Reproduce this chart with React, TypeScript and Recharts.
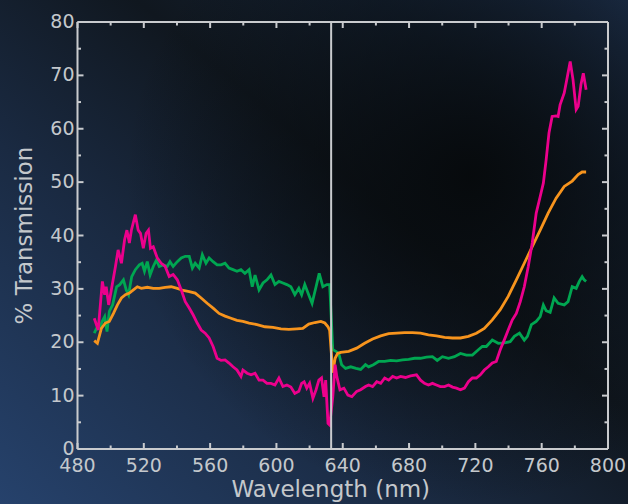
import { LineChart, Line, XAxis, YAxis, ReferenceLine, Label } from "recharts"

// wavelength (nm) and % transmission, one pair of arrays per sample
const magentaNm = [490.1, 492.5, 495, 496.4, 497.3, 498.8, 500.4, 502.9, 504.5, 506.5, 508.4, 509.8, 511.3, 512.5, 514.9, 516.6, 518, 519.7, 521.4, 522.8, 524, 525.7, 528.1, 530.5, 532.9, 535.3, 537.7, 540.2, 542.6, 545, 547.4, 549.8, 552.2, 554.6, 557, 559.4, 561.8, 564.2, 566.6, 569, 571.4, 573.8, 576.2, 578.6, 579.8, 582.3, 584.7, 587.1, 589.5, 591.9, 594.3, 596.7, 599.1, 601.5, 603.9, 606.3, 608.7, 611.1, 613.5, 615.2, 616.7, 618.3, 620, 622, 623.9, 625.6, 627.2, 628.7, 629.7, 631.1, 632.1, 634, 635.4, 636.4, 638.3, 640.7, 643.1, 645.5, 648.4, 650.8, 653.7, 655.6, 658, 660.5, 662.9, 665.3, 667.7, 670.1, 672.5, 674.9, 677.8, 680.9, 684.5, 686.9, 689.3, 691.7, 694.1, 696.5, 698.9, 701.4, 703.8, 706.2, 708.6, 711, 713.4, 715.8, 718.2, 720.6, 723, 725.4, 727.8, 730.2, 732.6, 735, 737.4, 739.8, 742.3, 744.7, 747.1, 749.5, 751.9, 754.3, 756.7, 759.1, 761, 762.7, 764.4, 766.3, 768.7, 769.9, 771.1, 773.6, 775.5, 777.2, 778.9, 780.8, 782, 783.7, 785.1, 786.8]
const magentaPct = [24.5, 22.3, 31.4, 28.9, 30.4, 27, 29.8, 34.2, 37.3, 34.8, 39.2, 41, 38.6, 41, 43.9, 41, 40.4, 37.6, 40.4, 41, 37.6, 37.9, 35.8, 34.8, 34.2, 32.3, 32.7, 31.7, 29.8, 27.6, 26.4, 25.1, 23.6, 22.3, 21.7, 20.8, 19.2, 17, 16.6, 16.7, 16.1, 15.4, 14.8, 13.6, 14.8, 14.2, 13.9, 14.2, 12.9, 12.9, 12.3, 12.3, 12, 13.3, 11.7, 12, 11.6, 10.4, 10.8, 12.3, 12.6, 11.4, 12.3, 9.5, 11.1, 12.9, 13.3, 9.8, 12.9, 4.8, 4.5, 9.8, 15.8, 13.6, 11.1, 11.4, 10.1, 9.8, 10.8, 11.1, 11.7, 12, 11.7, 12.6, 12.3, 13.3, 12.9, 13.6, 13.3, 13.6, 13.4, 13.7, 13.9, 12.9, 12.3, 12, 12.3, 12, 11.7, 11.7, 12, 11.6, 11.4, 11.1, 11.4, 12.6, 13.3, 13.3, 13.9, 14.8, 15.4, 16.1, 16.4, 18.6, 20.4, 22.3, 24.2, 25.4, 27.6, 30.4, 34.2, 38.6, 44.2, 47.3, 49.8, 54.2, 59.2, 62.3, 62.4, 62.3, 64.5, 66.7, 69.8, 72.6, 69.2, 63.6, 64.2, 68.3, 70.4, 67.3]

const greenNm = [490.1, 491.5, 493.2, 494.9, 496.4, 497.8, 499.2, 501.2, 503.6, 505.5, 507.7, 509.4, 510.8, 512.7, 514.9, 517.3, 519, 520.4, 522.1, 523.8, 525.7, 527.6, 529.3, 531.7, 534.1, 535.8, 537.7, 540.2, 542.6, 545, 547.4, 549.3, 551, 553.4, 555.3, 557.5, 559.4, 561.8, 564.2, 566.6, 569, 571.4, 573.8, 576.2, 578.6, 581, 583.5, 585.4, 587.1, 589.5, 591.9, 594.3, 596.7, 599.1, 601.5, 603.9, 606.3, 608.7, 611.1, 613.5, 615.2, 617.1, 619.1, 621.5, 623.9, 625.8, 628, 630.4, 632.1, 634, 635.9, 637.6, 639.3, 641.7, 644.8, 648, 650.8, 653.7, 655.6, 658.5, 661.6, 665.3, 668.9, 672.5, 676.1, 679.7, 683.3, 686.9, 690.5, 694.1, 697, 700.1, 703.8, 707.4, 711, 714.6, 718.2, 721.8, 724.2, 726.6, 730.2, 733.8, 737.4, 741, 743.5, 746.6, 749.5, 751.4, 753.8, 756.7, 759.1, 761, 762.7, 765.1, 767.5, 769.9, 773.6, 775.9, 778.4, 780.8, 782.7, 784.4, 785.6, 786.8]
const greenPct = [21.7, 22.6, 22.6, 23.9, 24.8, 22, 25.8, 27, 30.4, 30.8, 31.7, 29.8, 28.9, 32.3, 33.6, 34.5, 34.8, 33.3, 35.1, 32.6, 34.2, 35.4, 34.2, 34.5, 34.2, 35.1, 34.2, 35.1, 35.8, 36.1, 36.1, 33.9, 34.8, 33.9, 36.4, 34.8, 35.8, 35.1, 34.5, 34.5, 34.8, 33.9, 33.6, 33.3, 33.6, 32.9, 33.6, 30.4, 32.6, 29.8, 31.1, 31.7, 32.6, 30.8, 31.4, 31.1, 30.8, 30.4, 28.9, 30.1, 28.9, 30.8, 29.2, 27.3, 30.4, 32.9, 30.4, 30.8, 30.8, 18.6, 18.3, 17.9, 15.8, 15.1, 15.4, 15.1, 14.9, 15.8, 15.4, 15.8, 16.4, 16.4, 16.6, 16.5, 16.7, 16.8, 17, 17, 17.2, 17.3, 16.6, 17.3, 17, 17.3, 17.9, 17.6, 17.6, 18.6, 19.2, 19.2, 20.4, 19.8, 19.9, 20.1, 21.1, 21.7, 20.4, 21.1, 23.3, 23.9, 24.8, 27, 25.9, 25.6, 28.3, 27.3, 27, 27.6, 30.4, 30.1, 31.4, 32.3, 31.7, 31.4]

const orangeNm = [490.1, 492, 494.4, 496.8, 499.2, 501.7, 504.1, 506.5, 508.9, 511.3, 513.7, 516.1, 518.5, 522.1, 525.7, 529.3, 532.9, 536.5, 540.2, 543.8, 547.4, 551, 554.6, 558.2, 561.8, 565.4, 569, 572.6, 576.2, 579.8, 583.5, 588.3, 593.1, 597.9, 602.7, 607.5, 612.3, 615.9, 619.5, 623.2, 626.8, 629.2, 631.1, 632.1, 634, 635.4, 636.9, 638.8, 643.6, 648.4, 653.2, 658, 662.9, 667.7, 672.5, 677.3, 682.1, 686.9, 691.7, 696.5, 701.4, 706.2, 711, 715.8, 720.6, 725.4, 730.2, 735, 739.8, 744.7, 749.5, 754.3, 759.1, 763.9, 768.7, 773.6, 778.4, 782, 784.4, 786.8]
const orangePct = [20.3, 19.8, 22.6, 23.6, 23.9, 25.4, 27, 28.3, 28.9, 29.2, 29.8, 30.4, 30.1, 30.3, 30.1, 30.1, 30.3, 30.4, 30.1, 29.7, 29.5, 29.2, 28.3, 27.3, 26.4, 25.4, 24.9, 24.5, 24.1, 23.9, 23.6, 23.3, 22.9, 22.8, 22.5, 22.4, 22.5, 22.6, 23.4, 23.7, 23.9, 23.6, 22.9, 22.2, 14.3, 17, 17.9, 18.1, 18.3, 18.9, 19.8, 20.6, 21.2, 21.6, 21.7, 21.8, 21.8, 21.7, 21.4, 21.2, 20.9, 20.8, 20.8, 21.1, 21.7, 22.6, 24.2, 26.1, 28.6, 31.7, 34.8, 37.9, 41, 44.2, 47, 49.2, 50.2, 51.4, 51.9, 51.9]

const xTicks = [480, 500, 520, 540, 560, 580, 600, 620, 640, 660, 680, 700, 720, 740, 760, 780, 800]
const yTicks = [0, 5, 10, 15, 20, 25, 30, 35, 40, 45, 50, 55, 60, 65, 70, 75, 80]
const cutoffNm = 633

const AXIS = "#c9cbce"
const TEXT = "#c4c8cc"

const zip = (nm: number[], pct: number[]) =>
  nm.slice(0, Math.min(nm.length, pct.length)).map((x, i) => ({ nm: x, pct: pct[i] }))

const BottomTick = ({ x, y, payload }: any) => {
  const major = payload.value % 40 === 0
  return (
    <g>
      <line x1={x} y1={y} x2={x} y2={y - (major ? 6 : 3.5)} stroke={AXIS} strokeWidth={2} />
      {major && (
        <text x={x} y={y + 23} textAnchor="middle" fill={TEXT} fontSize={19}>
          {payload.value}
        </text>
      )}
    </g>
  )
}

const TopTick = ({ x, y, payload }: any) => {
  const major = payload.value % 40 === 0
  return <line x1={x} y1={y} x2={x} y2={y + (major ? 6 : 3.5)} stroke={AXIS} strokeWidth={2} />
}

const LeftTick = ({ x, y, payload }: any) => {
  const major = payload.value % 10 === 0
  return (
    <g>
      <line x1={x} y1={y} x2={x + (major ? 6 : 3.5)} y2={y} stroke={AXIS} strokeWidth={2} />
      {major && (
        <text x={x - 3} y={y + 6} textAnchor="end" fill={TEXT} fontSize={19}>
          {payload.value}
        </text>
      )}
    </g>
  )
}

const RightTick = ({ x, y, payload }: any) => {
  const major = payload.value % 10 === 0
  return <line x1={x} y1={y} x2={x - (major ? 6 : 3.5)} y2={y} stroke={AXIS} strokeWidth={2} />
}

export default function App() {
  return (
    <div
      style={{
        position: "absolute",
        top: 0,
        left: 0,
        width: 628,
        height: 504,
        fontFamily: "'DejaVu Sans', sans-serif",
        background:
          "radial-gradient(ellipse 55% 65% at 75% 35%, rgba(6,9,11,0.95) 0%, rgba(6,9,11,0) 100%), linear-gradient(40deg, #26426c 0%, #1a2a42 35%, #10171f 60%, #152233 80%, #1f3351 100%)",
      }}
    >
      <LineChart width={628} height={504} margin={{ top: 21, right: 19, bottom: 7, left: 0 }}>
        <XAxis
          dataKey="nm"
          type="number"
          domain={[480, 800]}
          ticks={xTicks}
          interval={0}
          tickSize={0}
          tickMargin={0}
          tickLine={false}
          tick={<BottomTick />}
          height={48}
          axisLine={{ stroke: AXIS, strokeWidth: 2 }}
          allowDataOverflow
        >
          <Label value="Wavelength (nm)" position="insideBottom" offset={0} dx={-12} fill={TEXT} fontSize={23} />
        </XAxis>
        <XAxis
          xAxisId="top"
          orientation="top"
          dataKey="nm"
          type="number"
          domain={[480, 800]}
          allowDataOverflow
          ticks={xTicks}
          interval={0}
          tickSize={0}
          tickMargin={0}
          tickLine={false}
          tick={<TopTick />}
          height={1}
          axisLine={{ stroke: AXIS, strokeWidth: 2 }}
        />
        <YAxis
          type="number"
          domain={[0, 80]}
          allowDataOverflow
          ticks={yTicks}
          interval={0}
          tickSize={0}
          tickMargin={0}
          tickLine={false}
          tick={<LeftTick />}
          width={77.5}
          axisLine={{ stroke: AXIS, strokeWidth: 2 }}
        >
          <Label value="% Transmission" angle={-90} position="center" dx={-15} fill={TEXT} fontSize={23} />
        </YAxis>
        <YAxis
          yAxisId="right"
          orientation="right"
          type="number"
          domain={[0, 80]}
          allowDataOverflow
          ticks={yTicks}
          interval={0}
          tickSize={0}
          tickMargin={0}
          tickLine={false}
          tick={<RightTick />}
          width={1}
          axisLine={{ stroke: AXIS, strokeWidth: 2 }}
        />
        <Line data={zip(greenNm, greenPct)} dataKey="pct" stroke="#00a651" strokeWidth={2.8} dot={false} isAnimationActive={false} />
        <Line data={zip(orangeNm, orangePct)} dataKey="pct" stroke="#f7941d" strokeWidth={2.8} dot={false} isAnimationActive={false} />
        <Line data={zip(magentaNm, magentaPct)} dataKey="pct" stroke="#ec008c" strokeWidth={2.8} dot={false} isAnimationActive={false} />
        <ReferenceLine x={cutoffNm} stroke={AXIS} strokeWidth={2} />
      </LineChart>
    </div>
  )
}
